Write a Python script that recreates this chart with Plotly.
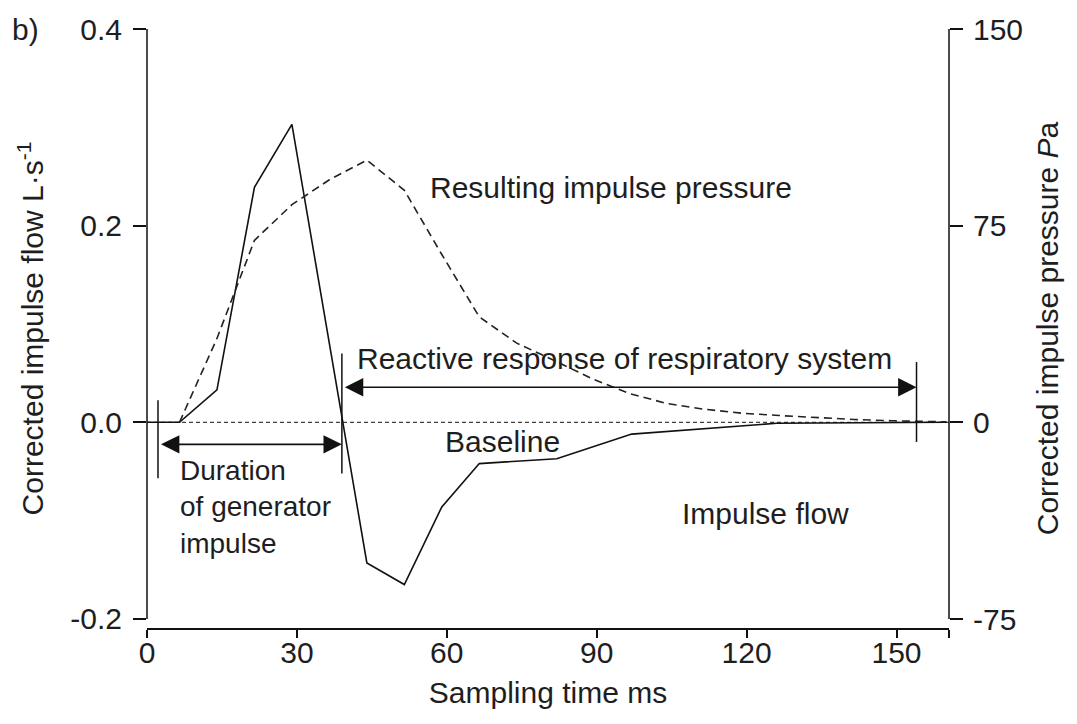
import plotly.graph_objects as go

# ---- data ----
t_flow = [0, 6.5, 14, 21.5, 29, 44, 51.5, 59, 66.5, 82, 97, 126, 160]
flow = [0, 0, 0.033, 0.239, 0.303, -0.143, -0.165, -0.086, -0.042, -0.037, -0.012, -0.001, 0]

t_press = [6.5, 14, 21.5, 29, 36.5, 44, 51.5, 59, 66.5, 74, 81.5, 89, 96.5, 104,
           111.5, 119, 126.5, 134, 141.5, 149, 156.5, 160]
pressure = [0, 32, 69.4, 83, 92.5, 100, 88.5, 64, 40.2, 30.2, 23.6, 16.7, 11, 7.2,
            5, 3.5, 2.6, 1.8, 1.1, 0.6, 0.3, 0.2]

x_ticks = [0, 30, 60, 90, 120, 150, 160.5]
x_ticktext = ["0", "30", "60", "90", "120", "150", " "]
y_ticks = [-0.2, 0.0, 0.2, 0.4]
y_ticktext = ["-0.2", "0.0", "0.2", "0.4"]
y2_ticks = [-75, 0, 75, 150]
y2_ticktext = ["-75", "0", "75", "150"]

x_range = [0, 160.5]
y_range = [-0.2092, 0.4]
y2_range = [-78.43, 150]

# annotation markers (time in ms, flow units)
duration_span = [2.2, 39]
duration_y = -0.0224
reactive_span = [39, 154]
reactive_y = 0.0356
vlines = [(2.2, 0.0224, -0.057), (39, 0.070, -0.052), (154, 0.0613, -0.020)]

FONT = "Liberation Sans, Arial, Helvetica, sans-serif"
INK = "#1e1e1e"

fig = go.Figure()
fig.add_trace(go.Scatter(x=t_flow, y=flow, mode="lines",
                         line=dict(color="#111", width=1.6), showlegend=False,
                         hoverinfo="skip"))
fig.add_trace(go.Scatter(x=t_press, y=pressure, mode="lines", yaxis="y2",
                         line=dict(color="#222", width=1.6, dash="8px,5px"),
                         showlegend=False, hoverinfo="skip"))

shapes = []
# baseline
shapes.append(dict(type="line", xref="paper", yref="y", x0=0, x1=1, y0=0, y1=0,
                   line=dict(color="#111", width=1, dash="4px,3px")))
# y-axis lines (span only the tick range)
for xp in (0, 1):
    shapes.append(dict(type="line", xref="paper", yref="y", x0=xp, x1=xp,
                       y0=y_ticks[0], y1=y_ticks[-1], line=dict(color="#111", width=1.5)))
for (xv, ya, yb) in vlines:
    shapes.append(dict(type="line", xref="x", yref="y", x0=xv, x1=xv, y0=ya, y1=yb,
                       line=dict(color="#111", width=1.5)))

annotations = []
for (span, yv) in ((duration_span, duration_y), (reactive_span, reactive_y)):
    annotations.append(dict(x=span[1], y=yv, ax=span[0], ay=yv, xref="x", yref="y",
                            axref="x", ayref="y", text=" ", showarrow=True,
                            arrowhead=2, arrowside="end+start", arrowsize=2.3,
                            arrowwidth=1.6, arrowcolor="#111", standoff=0, startstandoff=0,
                            font=dict(size=10)))

def txt(x, y, s, size=30, xanchor="left", yanchor="middle", **kw):
    d = dict(x=x, y=y, xref="x", yref="y", text=s, showarrow=False,
             xanchor=xanchor, yanchor=yanchor, align="left",
             font=dict(family=FONT, size=size, color=INK))
    d.update(kw)
    annotations.append(d)

txt(56.3, 0.239, "Resulting impulse pressure")
txt(41.6, 0.065, "Reactive response of respiratory system")
txt(59.3, -0.020, "Baseline")
txt(6.2, -0.031, "Duration<br>of generator<br>impulse", size=28, yanchor="top")
txt(106.6, -0.0925, "Impulse flow")
annotations.append(dict(x=-0.171, y=1.0, xref="paper", yref="paper", text="b)",
                        showarrow=False, xanchor="left", yanchor="middle",
                        font=dict(family=FONT, size=30, color=INK)))

# the page body adds an 8px margin, so the figure is 16px smaller than the window
fig.update_layout(
    width=1069, height=716,
    margin=dict(l=139, r=128, t=21, b=96),
    paper_bgcolor="white", plot_bgcolor="white",
    font=dict(family=FONT, size=30, color=INK),
    shapes=shapes, annotations=annotations,
    xaxis=dict(range=x_range, tickvals=x_ticks, ticktext=x_ticktext,
               showline=True, linecolor="#111", linewidth=1.5,
               ticks="outside", ticklen=8, tickwidth=1.5, tickcolor="#111",
               showgrid=False, zeroline=False, automargin=False,
               tickfont=dict(size=30), ticklabelstandoff=-11,
               title=dict(text="Sampling time ms", font=dict(size=30), standoff=14)),
    yaxis=dict(range=y_range, tickvals=y_ticks, ticktext=y_ticktext,
               showline=False, ticks="outside", ticklen=13, tickwidth=1.5, tickcolor="#111",
               showgrid=False, zeroline=False, automargin=False,
               tickfont=dict(size=30), ticklabelstandoff=5,
               title=dict(text="Corrected impulse flow L·s<sup>-1</sup>", font=dict(size=30),
                          standoff=17)),
    yaxis2=dict(range=y2_range, tickvals=y2_ticks, ticktext=y2_ticktext,
                overlaying="y", side="right",
                showline=False, ticks="outside", ticklen=13, tickwidth=1.5, tickcolor="#111",
                showgrid=False, zeroline=False, automargin=False,
                tickfont=dict(size=30), ticklabelstandoff=4,
                title=dict(text="Corrected impulse pressure <i>P</i>a", font=dict(size=30),
                           standoff=14)),
)

fig.write_html("out.html")
